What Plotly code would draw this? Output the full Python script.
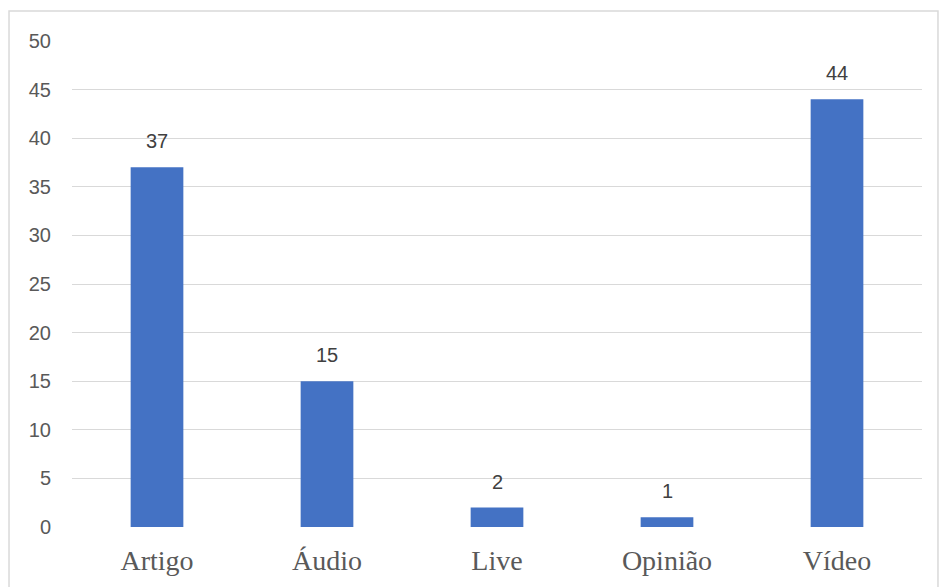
import plotly.graph_objects as go

categories = ["Artigo", "Áudio", "Live", "Opinião", "Vídeo"]
values = [37, 15, 2, 1, 44]
y_ticks = [0, 5, 10, 15, 20, 25, 30, 35, 40, 45, 50]

fig = go.Figure()
fig.add_trace(go.Bar(x=categories, y=values, marker_color="#4472C4",
                     marker_line_width=0, hoverinfo="x+y"))

for c, v in zip(categories, values):
    fig.add_annotation(x=c, y=v, text=str(v), showarrow=False, yanchor="bottom",
                       yshift=13, font=dict(family="Liberation Sans, Arial, sans-serif",
                                            size=20, color="#404040"))

fig.add_shape(type="rect", xref="paper", yref="paper", x0=-0.0741, x1=1.0188,
              y0=-0.14, y1=1.0617, line=dict(color="#D9D9D9", width=1.5),
              fillcolor="rgba(0,0,0,0)", layer="below")

fig.update_layout(
    width=939, height=587,
    margin=dict(l=72, r=17, t=41, b=60),
    paper_bgcolor="white", plot_bgcolor="white",
    bargap=0.69, showlegend=False,
)
fig.update_xaxes(showgrid=False, showline=False, zeroline=False, ticks="",
                 automargin=False,
                 tickfont=dict(family="Liberation Serif, Times New Roman, serif",
                               size=28, color="#595959"),
                 ticklabelstandoff=14)
fig.update_yaxes(range=[0, 50], tickvals=y_ticks, showgrid=True, gridcolor="#D9D9D9",
                 gridwidth=1.4, zeroline=False, showline=False, ticks="",
                 automargin=False,
                 tickfont=dict(family="Liberation Sans, Arial, sans-serif",
                               size=20, color="#595959"),
                 ticklabelstandoff=20)

fig.write_html("out.html")
